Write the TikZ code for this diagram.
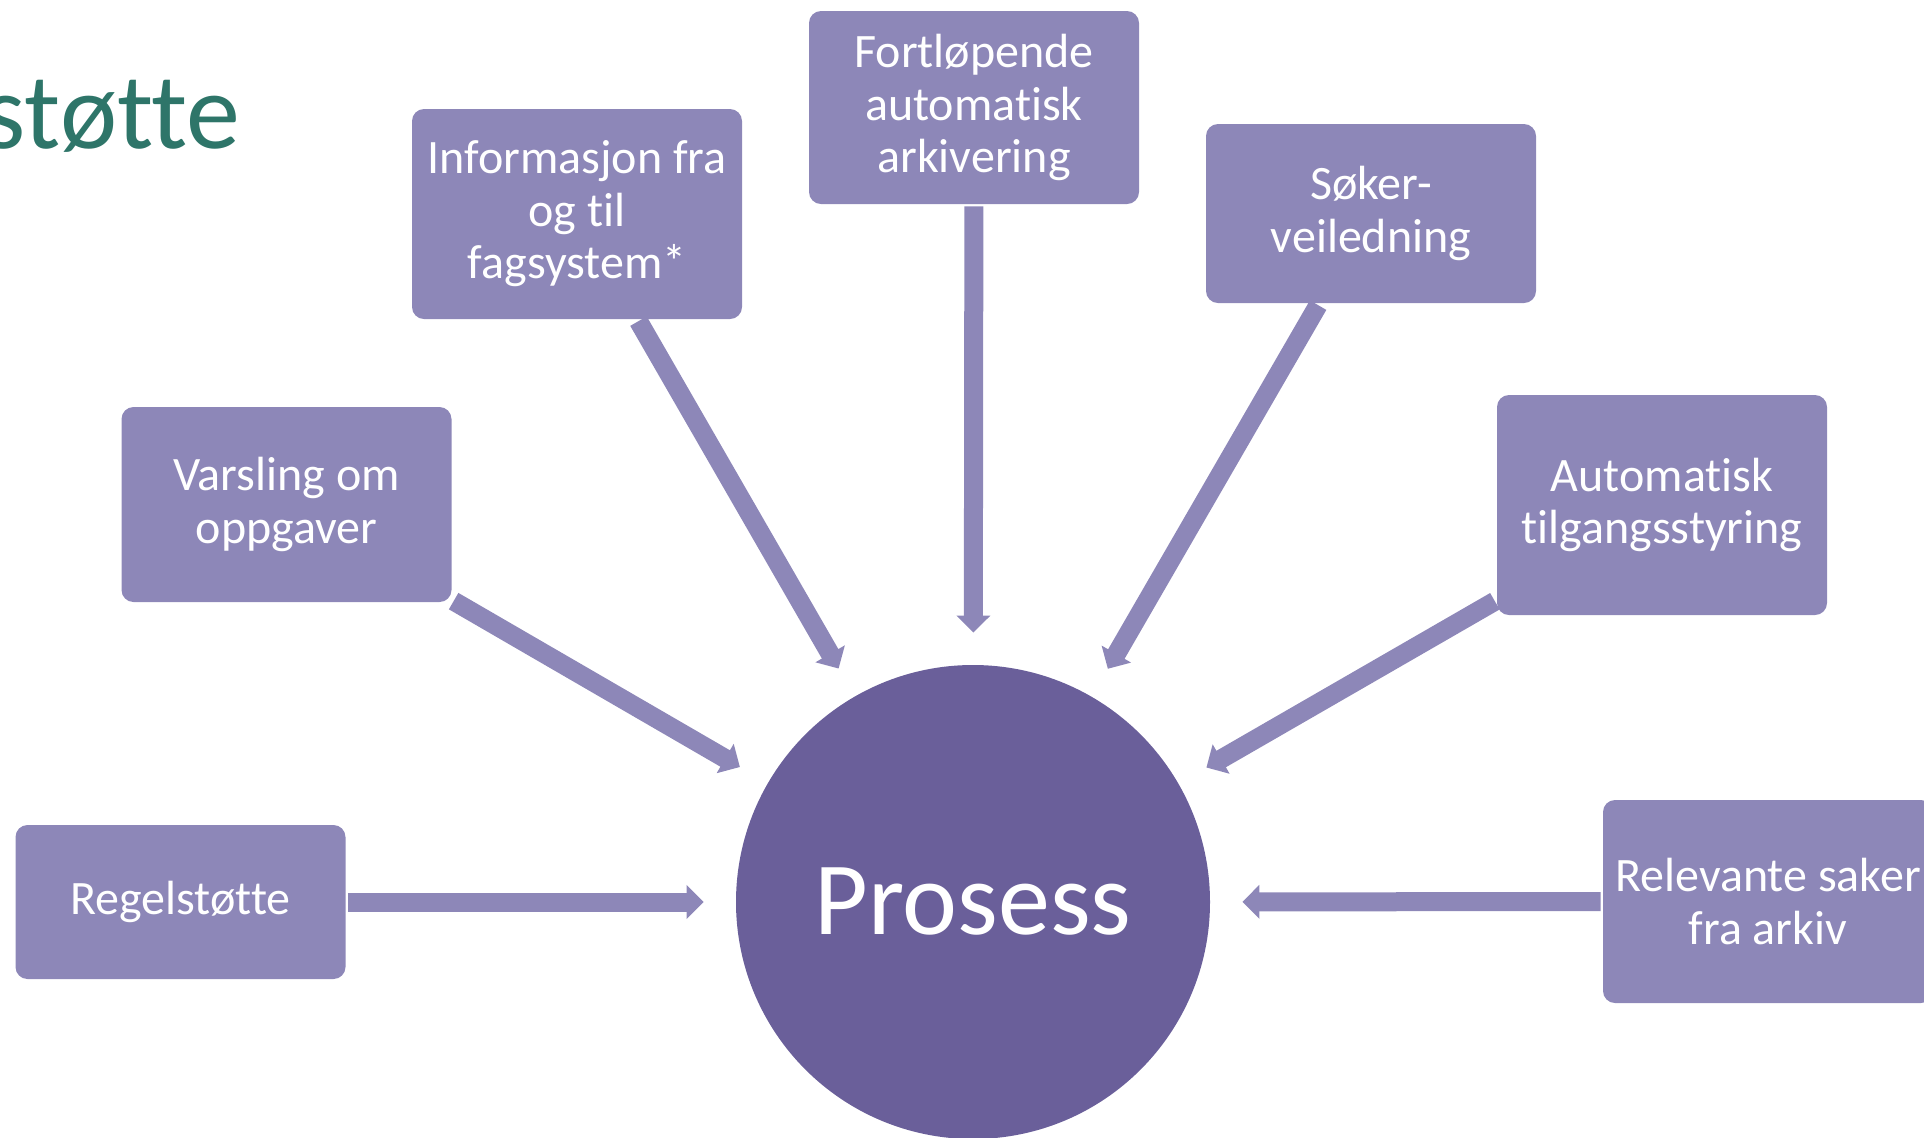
\documentclass[tikz,border=0pt]{standalone}
\usepackage{fontspec}
\setmainfont{Carlito}[Ligatures=NoCommon]
\usetikzlibrary{arrows.meta}
\definecolor{boksfarge}{RGB}{141,135,184}
\definecolor{sirkelfarge}{RGB}{106,95,154}
\definecolor{tittelfarge}{RGB}{46,117,105}
\begin{document}
\begin{tikzpicture}[x=0.5pt,y=-0.5pt,
		boks/.style={fill=boksfarge, rounded corners=6pt, minimum width=165pt, align=center, text=white, inner sep=0pt, font=\fontsize{24}{26.25}\selectfont},
		pil/.style={draw=boksfarge, line width=9.5pt, -{Triangle[width=16.5pt, length=8.5pt]}, shorten >=16pt, shorten <=1pt}]
		\path[use as bounding box] (0,0) rectangle (1924,1137);
		\clip (0,0) rectangle (1924,1137);

		%tittel
		\node[anchor=base east, inner sep=0pt, text=tittelfarge, font=\fontsize{54}{64}\selectfont] (tittel) at (241,148) {støtte};

		%midten
		\node[circle, fill=sirkelfarge, minimum size=237pt, inner sep=0pt, text=white, font=\fontsize{52}{60}\selectfont] (prosess) at (973,902) {Prosess};

		%boksene
		\node[boks, minimum height=77pt] (regel) at (180.5,902) {Regelstøtte};
		\node[boks, minimum height=97.5pt] (varsling) at (286.5,504.5) {Varsling om\\oppgaver};
		\node[boks, minimum height=105pt] (info) at (577,214) {Informasjon fra\\og til\\fagsystem*};
		\node[boks, minimum height=96.5pt] (fort) at (974,107.5) {Fortløpende\\automatisk\\arkivering};
		\node[boks, minimum height=89.5pt] (soker) at (1371,213.5) {Søker-\\veiledning};
		\node[boks, minimum height=110pt] (auto) at (1662,505) {Automatisk\\tilgangsstyring};
		\node[boks, minimum height=101.5pt] (relevant) at (1768,901.5) {Relevante saker\\fra arkiv};

		%pilene
		\foreach \b in {regel,varsling,info,fort,soker,auto,relevant}{
			\draw[pil] (\b) -- (prosess);
		}

	\end{tikzpicture}
\end{document}
